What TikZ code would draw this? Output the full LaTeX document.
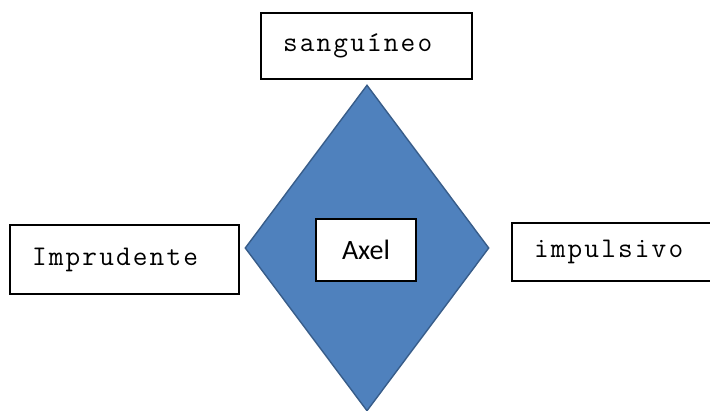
\documentclass[tikz,border=0pt]{standalone}
\usepackage{fontspec}
\newfontfamily\typew{Latin Modern Mono}[LetterSpace=7.5]
\newfontfamily\bodyfont{Carlito}
\definecolor{shapefill}{RGB}{79,129,189}
\definecolor{shapeline}{RGB}{56,93,138}
\usetikzlibrary{shapes.geometric,positioning}

\begin{document}
\begin{tikzpicture}[x=1pt,y=-1pt,
		trait/.style={draw,line width=1.4pt,fill=white,align=left,inner xsep=22pt,inner ysep=0pt,
			font=\typew\fontsize{28.5}{34}\selectfont},
		center/.style={draw,line width=1.4pt,fill=white,minimum width=100pt,minimum height=62pt,
			font=\bodyfont\fontsize{28}{34}\selectfont}]
			\useasboundingbox (0,0) rectangle (710,410);
			\node[diamond,draw=shapeline,fill=shapefill,line width=1.4pt,
				minimum width=244pt,minimum height=326pt,inner sep=0pt] (Temperament) at (367,248) {};

			\node[trait,text width=167pt,minimum height=66pt] (Sanguineo)  at (366.5,46)  {sanguíneo};
			\node[trait,text width=185pt,minimum height=69pt] (Imprudente) at (124.5,259.5) {Imprudente};
			\node[trait,text width=167pt,minimum height=58pt] (Impulsivo)  at (617.5,252) {impulsivo};
			\node[center]                                      (Axel)       at (366,250)   {Axel};
		\end{tikzpicture}
\end{document}
